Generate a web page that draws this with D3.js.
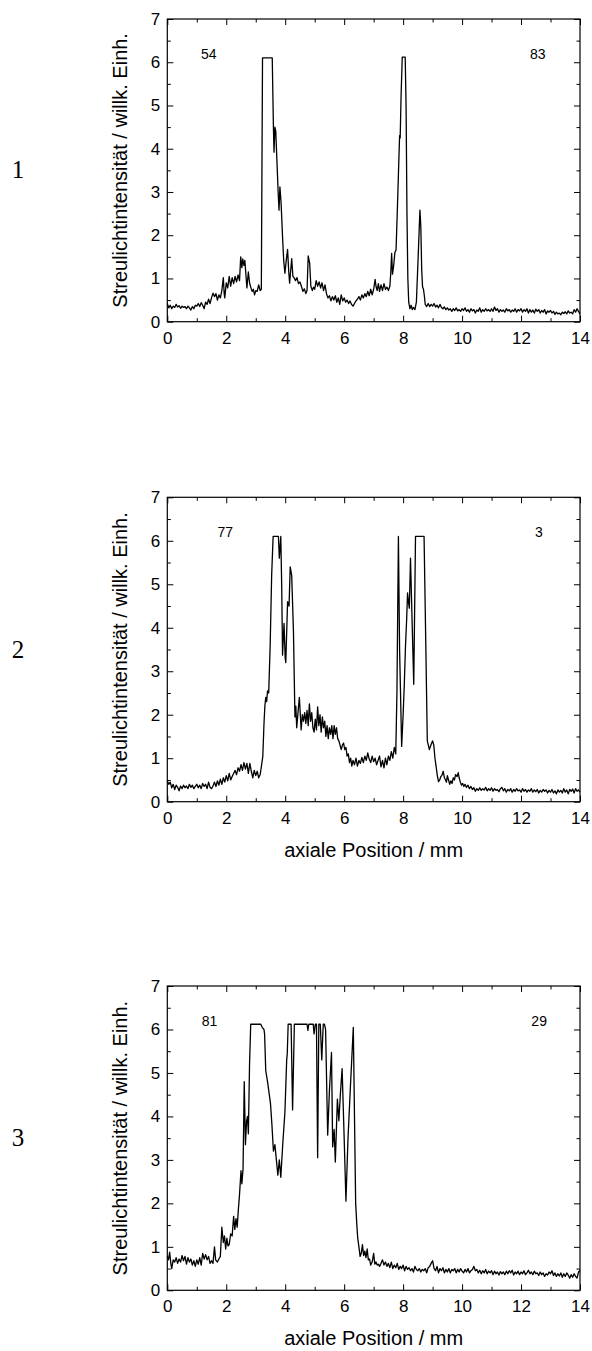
<!DOCTYPE html>
<html>
<head>
<meta charset="utf-8">
<script src="https://cdn.jsdelivr.net/npm/d3@7"></script>
<style>
  body { margin: 0; background: #fff; }
  svg { display: block; }
</style>
</head>
<body>
<svg id="chart" width="592" height="1351"></svg>
<script>
// Streulichtintensität vs. axiale Position
const series1 = [
  [0,0.42],[0.05,0.32],[0.1,0.38],[0.15,0.3],[0.2,0.36],[0.25,0.33],[0.3,0.4],[0.35,0.34],[0.4,0.37],[0.45,0.31],
  [0.5,0.36],[0.55,0.33],[0.6,0.35],[0.65,0.3],[0.7,0.36],[0.75,0.32],[0.8,0.27],[0.85,0.35],[0.9,0.3],[0.95,0.38],
  [1,0.36],[1.05,0.42],[1.1,0.35],[1.15,0.44],[1.2,0.38],[1.25,0.3],[1.3,0.45],[1.35,0.4],[1.4,0.52],[1.45,0.42],
  [1.5,0.55],[1.55,0.66],[1.6,0.58],[1.65,0.65],[1.7,0.5],[1.75,0.62],[1.8,0.55],[1.85,0.72],[1.9,1.02],[1.93,0.65],
  [1.95,0.55],[2,0.9],[2.05,0.78],[2.1,1.05],[2.15,0.82],[2.2,1.02],[2.25,0.88],[2.3,1.05],[2.35,0.92],[2.4,1.08],
  [2.45,0.95],[2.49,1.5],[2.53,1.25],[2.56,1.45],[2.6,1.3],[2.63,1.42],[2.66,1.15],[2.7,0.78],[2.75,1.15],[2.79,0.9],
  [2.83,0.8],[2.88,0.7],[2.92,0.75],[2.96,0.62],[3,0.72],[3.05,0.7],[3.1,0.85],[3.15,0.72],[3.19,0.75],[3.23,6.1],
  [3.56,6.1],[3.6,4.5],[3.62,3.92],[3.65,4.5],[3.68,4.4],[3.72,3.7],[3.76,3.0],[3.79,2.58],[3.82,3.12],[3.86,2.75],
  [3.91,1.95],[3.95,1.4],[3.99,1.12],[4.04,1.45],[4.08,1.67],[4.12,1.15],[4.15,0.89],[4.2,1.3],[4.22,1.46],[4.26,1.05],
  [4.3,1.02],[4.35,0.95],[4.4,1.02],[4.45,0.88],[4.5,0.92],[4.55,0.82],[4.6,0.7],[4.65,0.76],[4.7,0.65],[4.74,0.72],
  [4.78,1.52],[4.83,1.35],[4.87,0.82],[4.92,0.72],[4.96,0.8],[5,0.75],[5.05,0.95],[5.1,0.82],[5.15,0.92],[5.2,0.78],
  [5.25,0.9],[5.3,0.72],[5.35,0.85],[5.4,0.65],[5.45,0.55],[5.5,0.6],[5.55,0.48],[5.6,0.58],[5.65,0.5],[5.7,0.6],
  [5.75,0.45],[5.8,0.55],[5.85,0.4],[5.9,0.62],[5.95,0.48],[6,0.55],[6.05,0.45],[6.1,0.5],[6.15,0.42],[6.2,0.48],
  [6.25,0.4],[6.3,0.36],[6.35,0.42],[6.4,0.48],[6.45,0.52],[6.5,0.58],[6.55,0.5],[6.6,0.62],[6.65,0.55],[6.7,0.65],
  [6.75,0.58],[6.8,0.7],[6.85,0.6],[6.9,0.75],[6.95,0.62],[7,0.75],[7.05,0.98],[7.08,0.82],[7.12,0.72],[7.16,0.88],
  [7.2,0.7],[7.25,0.85],[7.3,0.72],[7.35,0.88],[7.4,0.75],[7.45,0.8],[7.5,0.72],[7.55,0.82],[7.58,1.12],[7.61,1.58],
  [7.64,1.1],[7.68,1.3],[7.72,1.6],[7.76,1.66],[7.8,2.5],[7.84,3.4],[7.88,4.3],[7.9,4.25],[7.93,5.2],[7.97,6.12],
  [8.07,6.12],[8.1,5.0],[8.13,2.5],[8.16,1.0],[8.19,0.45],[8.23,0.3],[8.27,0.38],[8.31,0.28],[8.35,0.33],[8.4,0.28],
  [8.45,0.45],[8.51,1.5],[8.57,2.58],[8.6,2.2],[8.63,1.2],[8.66,0.8],[8.69,0.75],[8.72,0.6],[8.75,0.4],[8.8,0.35],
  [8.85,0.42],[8.9,0.35],[8.95,0.4],[9,0.36],[9.05,0.42],[9.1,0.34],[9.15,0.38],[9.2,0.32],[9.25,0.4],[9.3,0.33],
  [9.35,0.3],[9.4,0.34],[9.45,0.28],[9.5,0.32],[9.55,0.27],[9.6,0.3],[9.65,0.24],[9.7,0.3],[9.75,0.26],[9.8,0.32],
  [9.85,0.25],[9.9,0.28],[9.95,0.24],[10,0.3],[10.05,0.26],[10.1,0.32],[10.15,0.24],[10.2,0.28],[10.25,0.22],[10.3,0.3],
  [10.35,0.25],[10.4,0.28],[10.45,0.2],[10.5,0.27],[10.55,0.24],[10.6,0.32],[10.65,0.22],[10.7,0.28],[10.75,0.24],[10.8,0.3],
  [10.85,0.25],[10.9,0.28],[10.95,0.24],[11,0.3],[11.05,0.24],[11.1,0.34],[11.15,0.26],[11.2,0.3],[11.25,0.22],[11.3,0.28],
  [11.35,0.24],[11.4,0.27],[11.45,0.22],[11.5,0.3],[11.55,0.25],[11.6,0.28],[11.65,0.22],[11.7,0.27],[11.75,0.24],[11.8,0.3],
  [11.85,0.22],[11.9,0.28],[11.95,0.25],[12,0.3],[12.05,0.22],[12.1,0.28],[12.15,0.24],[12.2,0.3],[12.25,0.2],[12.3,0.28],
  [12.35,0.22],[12.4,0.27],[12.45,0.2],[12.5,0.29],[12.55,0.24],[12.6,0.28],[12.65,0.2],[12.7,0.26],[12.75,0.22],[12.8,0.28],
  [12.85,0.18],[12.9,0.25],[12.95,0.22],[13,0.26],[13.05,0.2],[13.1,0.24],[13.15,0.17],[13.2,0.22],[13.25,0.18],[13.3,0.2],
  [13.35,0.16],[13.4,0.22],[13.45,0.19],[13.5,0.23],[13.55,0.18],[13.6,0.25],[13.65,0.2],[13.7,0.22],[13.75,0.18],[13.8,0.28],
  [13.85,0.22],[13.9,0.3],[13.95,0.24],[14,0.18]
]

const series2 = [
  [0,0.48],[0.05,0.4],[0.1,0.45],[0.15,0.32],[0.2,0.4],[0.25,0.28],[0.3,0.38],[0.35,0.33],[0.4,0.25],[0.45,0.36],
  [0.5,0.3],[0.55,0.38],[0.6,0.32],[0.65,0.36],[0.7,0.3],[0.75,0.4],[0.8,0.33],[0.85,0.38],[0.9,0.3],[0.95,0.35],
  [1,0.4],[1.05,0.32],[1.1,0.38],[1.15,0.3],[1.2,0.42],[1.25,0.35],[1.3,0.4],[1.35,0.3],[1.4,0.45],[1.45,0.33],
  [1.5,0.3],[1.55,0.36],[1.6,0.45],[1.65,0.35],[1.7,0.48],[1.75,0.38],[1.8,0.52],[1.85,0.4],[1.9,0.55],[1.95,0.45],
  [2,0.6],[2.05,0.48],[2.1,0.65],[2.15,0.5],[2.2,0.58],[2.25,0.65],[2.3,0.72],[2.35,0.62],[2.4,0.78],[2.45,0.7],
  [2.5,0.85],[2.55,0.72],[2.6,0.9],[2.65,0.75],[2.7,0.88],[2.75,0.65],[2.8,0.88],[2.85,0.7],[2.9,0.55],[2.95,0.72],
  [3,0.6],[3.05,0.7],[3.1,0.55],[3.15,0.62],[3.2,0.85],[3.24,1.04],[3.28,1.8],[3.31,2.2],[3.34,2.4],[3.37,2.3],
  [3.4,2.55],[3.44,2.5],[3.49,3.6],[3.54,5.2],[3.59,6.1],[3.77,6.1],[3.8,5.6],[3.85,6.1],[3.88,5.0],[3.91,3.37],
  [3.96,4.1],[4.0,3.3],[4.02,3.2],[4.08,4.6],[4.13,4.5],[4.17,5.4],[4.22,5.2],[4.28,3.9],[4.33,1.95],[4.36,2.2],
  [4.39,1.7],[4.44,2.1],[4.48,2.4],[4.54,1.65],[4.58,2.0],[4.62,1.85],[4.66,2.05],[4.7,1.8],[4.74,2.1],[4.78,1.75],
  [4.82,2.25],[4.86,1.85],[4.9,2.05],[4.94,1.7],[4.98,1.6],[5.02,1.9],[5.06,1.65],[5.1,2.18],[5.14,1.75],[5.18,2.0],
  [5.22,1.6],[5.26,1.95],[5.3,1.7],[5.34,1.85],[5.38,1.5],[5.42,1.75],[5.46,1.45],[5.5,1.7],[5.54,1.55],[5.58,1.75],
  [5.62,1.45],[5.66,1.75],[5.7,1.55],[5.74,1.7],[5.78,1.45],[5.82,1.4],[5.86,1.3],[5.9,1.2],[5.94,1.3],[5.98,1.35],
  [6.02,1.2],[6.06,1.25],[6.1,1.05],[6.14,1.1],[6.18,0.9],[6.22,1.0],[6.26,0.82],[6.3,0.95],[6.35,0.85],[6.4,1.0],
  [6.45,0.82],[6.5,0.95],[6.55,0.88],[6.6,1.02],[6.65,0.9],[6.7,1.05],[6.75,0.95],[6.8,1.12],[6.85,0.98],[6.9,0.9],
  [6.95,1.05],[7,0.92],[7.05,1.0],[7.1,0.85],[7.15,0.95],[7.2,1.05],[7.25,0.8],[7.3,0.95],[7.35,0.78],[7.4,1.0],
  [7.45,0.85],[7.5,1.05],[7.55,0.95],[7.6,1.15],[7.65,1.0],[7.7,1.25],[7.75,1.1],[7.79,2.5],[7.84,6.1],[7.88,3.5],
  [7.95,1.27],[8,2.0],[8.04,2.7],[8.08,3.57],[8.12,4.2],[8.15,4.8],[8.18,4.6],[8.21,4.45],[8.25,5.6],[8.31,4.0],
  [8.36,2.7],[8.42,6.1],[8.71,6.1],[8.76,4.0],[8.82,1.4],[8.89,1.2],[8.94,1.3],[9,1.4],[9.04,1.3],[9.08,1.0],
  [9.12,0.8],[9.16,0.6],[9.2,0.46],[9.24,0.5],[9.28,0.58],[9.31,0.6],[9.36,0.7],[9.4,0.55],[9.44,0.5],[9.47,0.45],
  [9.5,0.6],[9.54,0.5],[9.58,0.4],[9.62,0.48],[9.66,0.42],[9.7,0.55],[9.74,0.5],[9.78,0.62],[9.83,0.58],[9.87,0.67],
  [9.9,0.55],[9.94,0.45],[9.98,0.38],[10.02,0.42],[10.06,0.35],[10.1,0.4],[10.15,0.33],[10.2,0.38],[10.25,0.3],[10.3,0.35],
  [10.35,0.28],[10.4,0.32],[10.45,0.24],[10.5,0.3],[10.55,0.26],[10.6,0.32],[10.65,0.26],[10.7,0.3],[10.75,0.27],[10.8,0.33],
  [10.85,0.25],[10.9,0.3],[10.95,0.26],[11,0.32],[11.05,0.24],[11.1,0.3],[11.15,0.26],[11.2,0.28],[11.25,0.23],[11.3,0.3],
  [11.35,0.33],[11.4,0.25],[11.45,0.3],[11.5,0.22],[11.55,0.28],[11.6,0.25],[11.65,0.3],[11.7,0.22],[11.75,0.28],[11.8,0.24],
  [11.85,0.3],[11.9,0.25],[11.95,0.27],[12,0.22],[12.05,0.3],[12.1,0.24],[12.15,0.28],[12.2,0.22],[12.25,0.27],[12.3,0.24],
  [12.35,0.3],[12.4,0.22],[12.45,0.27],[12.5,0.23],[12.55,0.28],[12.6,0.2],[12.65,0.26],[12.7,0.22],[12.75,0.28],[12.8,0.24],
  [12.85,0.27],[12.9,0.2],[12.95,0.26],[13,0.22],[13.05,0.28],[13.1,0.2],[13.15,0.25],[13.2,0.18],[13.25,0.27],[13.3,0.22],
  [13.35,0.26],[13.4,0.2],[13.45,0.3],[13.5,0.22],[13.55,0.27],[13.6,0.18],[13.65,0.28],[13.7,0.24],[13.75,0.29],[13.8,0.2],
  [13.85,0.3],[13.9,0.24],[13.95,0.27],[14,0.22]
]

const series3 = [
  [0,0.78],[0.04,0.7],[0.08,0.88],[0.12,0.62],[0.15,0.5],[0.2,0.7],[0.25,0.65],[0.3,0.75],[0.35,0.62],[0.4,0.72],
  [0.45,0.65],[0.5,0.8],[0.55,0.68],[0.6,0.78],[0.65,0.6],[0.7,0.75],[0.75,0.65],[0.8,0.72],[0.85,0.58],[0.9,0.68],
  [0.95,0.55],[1,0.7],[1.05,0.6],[1.1,0.75],[1.15,0.58],[1.2,0.85],[1.25,0.72],[1.3,0.82],[1.35,0.7],[1.4,0.78],
  [1.45,0.62],[1.5,0.68],[1.55,0.62],[1.6,1.0],[1.64,0.7],[1.7,0.65],[1.75,0.72],[1.8,0.78],[1.85,1.45],[1.9,1.1],
  [1.94,1.25],[1.98,0.95],[2.02,1.2],[2.06,1.02],[2.1,1.05],[2.15,1.3],[2.2,1.25],[2.25,1.7],[2.29,1.4],[2.33,1.65],
  [2.37,1.45],[2.41,1.85],[2.45,2.2],[2.5,2.75],[2.53,2.45],[2.57,2.8],[2.61,4.8],[2.65,3.35],[2.69,3.9],[2.72,4.0],
  [2.75,3.6],[2.79,5.2],[2.83,6.12],[3.17,6.12],[3.22,6.05],[3.28,6.0],[3.3,5.9],[3.34,5.05],[3.4,4.8],[3.46,4.5],
  [3.5,4.3],[3.55,3.8],[3.6,3.2],[3.65,3.35],[3.7,3.0],[3.75,2.65],[3.8,3.0],[3.85,2.6],[3.92,3.4],[3.99,4.1],
  [4.05,5.3],[4.07,5.45],[4.1,6.12],[4.2,6.12],[4.25,4.15],[4.31,6.12],[4.74,6.12],[4.77,5.98],[4.8,6.12],[4.95,6.12],
  [4.98,5.9],[5.02,6.12],[5.06,6.12],[5.1,3.05],[5.14,6.12],[5.19,6.12],[5.24,5.3],[5.29,6.12],[5.33,6.12],[5.37,6.0],
  [5.44,3.57],[5.5,4.6],[5.57,5.47],[5.61,3.3],[5.66,3.7],[5.7,2.95],[5.77,4.4],[5.82,3.9],[5.87,4.5],[5.93,5.1],
  [6,3.5],[6.06,2.05],[6.13,3.5],[6.22,4.8],[6.31,6.05],[6.35,4.0],[6.39,2.0],[6.43,1.5],[6.46,1.2],[6.5,1.0],
  [6.54,0.78],[6.58,0.85],[6.62,1.05],[6.66,0.8],[6.7,0.9],[6.74,0.75],[6.78,0.95],[6.82,0.7],[6.86,0.72],[6.9,0.58],
  [6.95,0.65],[7,0.85],[7.04,0.6],[7.08,0.65],[7.12,0.58],[7.16,0.6],[7.2,0.55],[7.25,0.62],[7.3,0.7],[7.35,0.58],
  [7.4,0.65],[7.45,0.55],[7.5,0.62],[7.55,0.52],[7.6,0.65],[7.65,0.5],[7.7,0.58],[7.75,0.52],[7.8,0.62],[7.85,0.48],
  [7.9,0.55],[7.95,0.5],[8,0.58],[8.05,0.45],[8.1,0.55],[8.15,0.48],[8.2,0.52],[8.25,0.45],[8.3,0.5],[8.35,0.42],
  [8.4,0.55],[8.45,0.48],[8.5,0.45],[8.55,0.5],[8.6,0.42],[8.65,0.48],[8.7,0.45],[8.75,0.5],[8.8,0.4],[8.85,0.52],
  [8.9,0.55],[8.95,0.62],[9,0.68],[9.05,0.5],[9.1,0.45],[9.15,0.55],[9.2,0.4],[9.25,0.5],[9.3,0.45],[9.35,0.52],
  [9.4,0.4],[9.45,0.48],[9.5,0.42],[9.55,0.5],[9.6,0.4],[9.65,0.48],[9.7,0.45],[9.75,0.5],[9.8,0.4],[9.85,0.48],
  [9.9,0.42],[9.95,0.5],[10,0.44],[10.05,0.4],[10.1,0.48],[10.15,0.42],[10.2,0.5],[10.25,0.4],[10.3,0.45],[10.35,0.48],
  [10.4,0.55],[10.45,0.45],[10.5,0.48],[10.55,0.4],[10.6,0.46],[10.65,0.38],[10.7,0.45],[10.75,0.4],[10.8,0.48],[10.85,0.38],
  [10.9,0.44],[10.95,0.4],[11,0.45],[11.05,0.36],[11.1,0.44],[11.15,0.38],[11.2,0.42],[11.25,0.35],[11.3,0.43],[11.35,0.38],
  [11.4,0.42],[11.45,0.36],[11.5,0.44],[11.55,0.38],[11.6,0.45],[11.65,0.4],[11.7,0.46],[11.75,0.35],[11.8,0.42],[11.85,0.38],
  [11.9,0.44],[11.95,0.36],[12,0.42],[12.05,0.38],[12.1,0.45],[12.15,0.36],[12.2,0.4],[12.25,0.46],[12.3,0.38],[12.35,0.42],
  [12.4,0.36],[12.45,0.44],[12.5,0.38],[12.55,0.4],[12.6,0.34],[12.65,0.42],[12.7,0.36],[12.75,0.4],[12.8,0.32],[12.85,0.38],
  [12.9,0.35],[12.95,0.42],[13,0.38],[13.05,0.45],[13.1,0.34],[13.15,0.4],[13.2,0.32],[13.25,0.38],[13.3,0.33],[13.35,0.4],
  [13.4,0.3],[13.45,0.38],[13.5,0.32],[13.55,0.4],[13.6,0.35],[13.65,0.28],[13.7,0.36],[13.75,0.3],[13.8,0.38],[13.85,0.32],
  [13.9,0.28],[13.95,0.42],[14,0.46]
]

// small numbers written inside each plot: [x, y, text]
const notes1 = [[1.14, 6.08, '54'], [12.3, 6.08, '83']]
const notes2 = [[1.7, 6.08, '77'], [12.47, 6.08, '3']]
const notes3 = [[1.17, 6.08, '81'], [12.35, 6.08, '29']]

const panelLabels = ['1', '2', '3']
const xTicks = [0, 2, 4, 6, 8, 10, 12, 14]
const yTicks = [0, 1, 2, 3, 4, 5, 6, 7]
const yTitle = 'Streulichtintensität / willk. Einh.'
const xTitle = 'axiale Position / mm'

// layout
const left = 167.3
const right = 580
const panels = [
  { top: 19, bottom: 321.7, data: series1, notes: notes1, showTitle: false },
  { top: 497.3, bottom: 801.7, data: series2, notes: notes2, showTitle: true },
  { top: 986, bottom: 1290.3, data: series3, notes: notes3, showTitle: true },
]

const sans = '"Liberation Sans", Arial, sans-serif'
const svg = d3.select('#chart')

panels.forEach((p, i) => {
  const x = d3.scaleLinear().domain([0, 14]).range([left, right])
  const y = d3.scaleLinear().domain([0, 7]).range([p.bottom, p.top])
  const g = svg.append('g')

  // minor ticks on all sides
  const xMinor = d3.range(1, 14, 2)
  const yMinor = d3.range(0.5, 7, 1)
  const minor = (axis, sc, vals) =>
    axis(sc).tickValues(vals).tickSize(-3.5).tickFormat('')

  g.append('g').attr('transform', `translate(0,${p.bottom})`).call(minor(d3.axisBottom, x, xMinor))
  g.append('g').attr('transform', `translate(0,${p.top})`).call(minor(d3.axisTop, x, xMinor))
  g.append('g').attr('transform', `translate(${left},0)`).call(minor(d3.axisLeft, y, yMinor))
  g.append('g').attr('transform', `translate(${right},0)`).call(minor(d3.axisRight, y, yMinor))

  // major ticks
  g.append('g')
    .attr('class', 'x-axis')
    .attr('transform', `translate(0,${p.bottom})`)
    .call(d3.axisBottom(x).tickValues(xTicks).tickSize(-6).tickPadding(10).tickFormat(d3.format('d')))
  g.append('g')
    .attr('transform', `translate(0,${p.top})`)
    .call(d3.axisTop(x).tickValues(xTicks).tickSize(-6).tickFormat(''))
  g.append('g')
    .attr('class', 'y-axis')
    .attr('transform', `translate(${left},0)`)
    .call(d3.axisLeft(y).tickValues(yTicks).tickSize(-6).tickPadding(7).tickFormat(d3.format('d')))
  g.append('g')
    .attr('transform', `translate(${right},0)`)
    .call(d3.axisRight(y).tickValues(yTicks).tickSize(-6).tickFormat(''))

  g.selectAll('.domain').remove()
  g.selectAll('.tick line').attr('stroke', '#000').attr('stroke-width', 1)
  g.selectAll('.tick text')
    .attr('fill', '#000')
    .style('font-family', sans)
    .style('font-size', '17px')

  // frame
  g.append('rect')
    .attr('x', left)
    .attr('y', p.top)
    .attr('width', right - left)
    .attr('height', p.bottom - p.top)
    .attr('fill', 'none')
    .attr('stroke', '#000')
    .attr('stroke-width', 1.2)

  // curve
  const line = d3.line().x((d) => x(d[0])).y((d) => y(d[1]))
  g.append('path')
    .attr('d', line(p.data))
    .attr('fill', 'none')
    .attr('stroke', '#000')
    .attr('stroke-width', 1.3)
    .attr('stroke-linejoin', 'round')

  g.selectAll('.note')
    .data(p.notes)
    .join('text')
    .attr('x', (d) => x(d[0]))
    .attr('y', (d) => y(d[1]))
    .style('font-family', sans)
    .style('font-size', '14px')
    .text((d) => d[2])

  // y title
  const midY = (p.top + p.bottom) / 2
  g.append('text')
    .attr('transform', `translate(127,${midY}) rotate(-90)`)
    .attr('text-anchor', 'middle')
    .style('font-family', sans)
    .style('font-size', '20px')
    .text(yTitle)

  if (p.showTitle) {
    g.append('text')
      .attr('x', (left + right) / 2)
      .attr('y', p.bottom + 55)
      .attr('text-anchor', 'middle')
      .style('font-family', sans)
      .style('font-size', '20px')
      .text(xTitle)
  }

  // panel number
  g.append('text')
    .attr('x', 18)
    .attr('y', midY + 8)
    .attr('text-anchor', 'middle')
    .style('font-family', '"Liberation Serif", "Times New Roman", serif')
    .style('font-size', '25px')
    .text(panelLabels[i])
})
</script>
</body>
</html>
